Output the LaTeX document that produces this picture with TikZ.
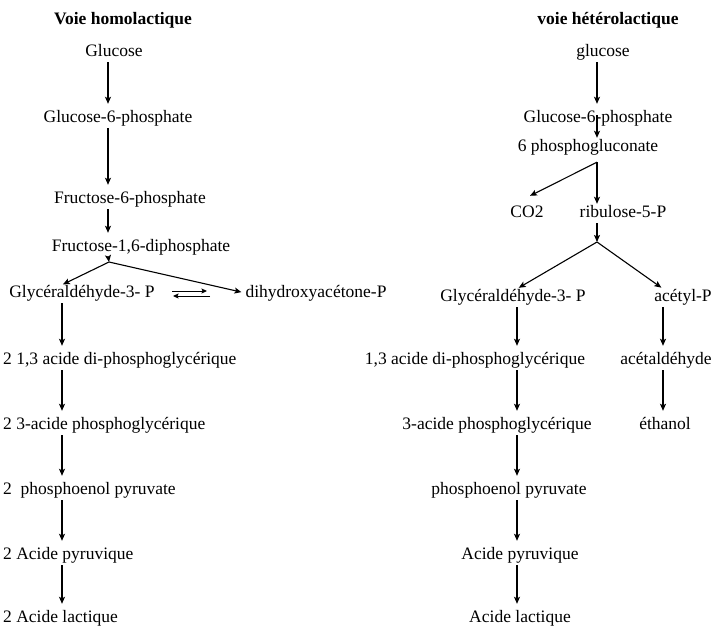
\documentclass[tikz,border=0pt]{standalone}
\usepackage{fontspec}
\setmainfont{Liberation Serif}
\usepackage{tikz}
\usetikzlibrary{arrows.meta,calc}
\tikzset{
  metab/.style={inner sep=0pt,text height=12pt,text depth=4pt,font=\fontsize{17.5}{20}\selectfont},
  pathtitle/.style={metab,font=\fontsize{17.5}{20}\selectfont\bfseries},
  reaction/.style={-{Stealth[length=7pt,width=6pt,inset=1.5pt]},line width=1.1pt,shorten <=2pt,shorten >=6pt},
  equil/.style={-{Stealth[length=5.5pt,width=5pt,inset=1pt]},line width=1pt}
}

\begin{document}
\begin{tikzpicture}[x=1pt,y=-1pt]
\useasboundingbox (0,0) rectangle (718,627);
% columns of the arrows
\coordinate (xA) at (108,0);
\coordinate (xB) at (62,0);
\coordinate (xC) at (597,0);
\coordinate (xD) at (517,0);
\coordinate (xE) at (663,0);

% voie homolactique
\node[pathtitle] (homo) at (123,20) {Voie homolactique};
\node[metab] (glc) at (114,52) {Glucose};
\node[metab] (g6p) at (118,118) {Glucose-6-phosphate};
\node[metab] (f6p) at (130,199) {Fructose-6-phosphate};
\node[metab] (fdp) at (141,247) {Fructose-1,6-diphosphate};
\node[metab] (gap) at (82,293) {Glycéraldéhyde-3- P};
\node[metab] (dhap) at (316,293) {dihydroxyacétone-P};
\node[metab,anchor=west] (bpg) at (3,360) {2 1,3 acide di-phosphoglycérique};
\node[metab,anchor=west] (pga) at (3,425) {2 3-acide phosphoglycérique};
\node[metab,anchor=west] (pep) at (3,490) {2\ \ phosphoenol pyruvate};
\node[metab,anchor=west] (pyr) at (3,555) {2 Acide pyruvique};
\node[metab,anchor=west] (lac) at (3,618) {2 Acide lactique};

\coordinate (brL) at (109,262);
\coordinate (eqA) at (172,291);
\coordinate (eqB) at (207,291);
\coordinate (eqC) at (210,296);
\coordinate (eqD) at (173,296);

\draw[reaction] (glc.south -| xA) -- (g6p.north -| xA);
\draw[reaction] (g6p.south -| xA) -- (f6p.north -| xA);
\draw[reaction] (f6p.south -| xA) -- (fdp.north -| xA);
\draw[reaction,shorten >=0pt] (fdp.south -| xA) -- (brL);
\draw[reaction,shorten <=0pt,shorten >=1pt] (brL) -- (gap.north -| xB);
\draw[reaction,shorten <=0pt,shorten >=4pt] (brL) -- (dhap.west);
\draw[equil] (eqA) -- (eqB);
\draw[equil] (eqC) -- (eqD);
\foreach \a/\b in {gap/bpg,bpg/pga,pga/pep,pep/pyr,pyr/lac}
  \draw[reaction] (\a.south -| xB) -- (\b.north -| xB);

% voie heterolactique
\node[pathtitle] (hetero) at (608,20) {voie hétérolactique};
\node[metab] (glcR) at (603,52) {glucose};
\node[metab] (g6pR) at (598,118) {Glucose-6-phosphate};
\node[metab] (pgl) at (588,147) {6 phosphogluconate};
\node[metab] (co2) at (527,213) {CO2};
\node[metab] (ru5p) at (623,213) {ribulose-5-P};
\node[metab] (gapR) at (513,297) {Glycéraldéhyde-3- P};
\node[metab] (acp) at (683,297) {acétyl-P};
\node[metab] (bpgR) at (475,360) {1,3 acide di-phosphoglycérique};
\node[metab] (acal) at (666,360) {acétaldéhyde};
\node[metab] (pgaR) at (497,425) {3-acide phosphoglycérique};
\node[metab] (etoh) at (665,425) {éthanol};
\node[metab] (pepR) at (509,490) {phosphoenol pyruvate};
\node[metab] (pyrR) at (520,555) {Acide pyruvique};
\node[metab] (lacR) at (520,618) {Acide lactique};

\coordinate (brR) at ($(pgl.south -| xC)+(0,7)$);
\coordinate (brS) at (597,242);
\coordinate (co2tip) at ($(co2.north)+(3,-9)$);

\draw[reaction] (glcR.south -| xC) -- (g6pR.north -| xC);
\draw[reaction,shorten <=-11pt,shorten >=1pt] (g6pR.south -| xC) -- (pgl.north -| xC);
\draw[reaction,shorten <=0pt,shorten >=1pt] (brR) -- (ru5p.north -| xC);
\draw[reaction,shorten <=0pt,shorten >=0pt] (brR) -- (co2tip);
\draw[reaction,shorten >=0pt] (ru5p.south -| xC) -- (brS);
\draw[reaction,shorten <=0pt,shorten >=2pt] (brS) -- (gapR.north -| xD);
\draw[reaction,shorten <=0pt,shorten >=2pt] (brS) -- (acp.north -| xE);
\foreach \a/\b in {gapR/bpgR,bpgR/pgaR,pgaR/pepR,pepR/pyrR,pyrR/lacR}
  \draw[reaction] (\a.south -| xD) -- (\b.north -| xD);
\foreach \a/\b in {acp/acal,acal/etoh}
  \draw[reaction] (\a.south -| xE) -- (\b.north -| xE);
\end{tikzpicture}
\end{document}
